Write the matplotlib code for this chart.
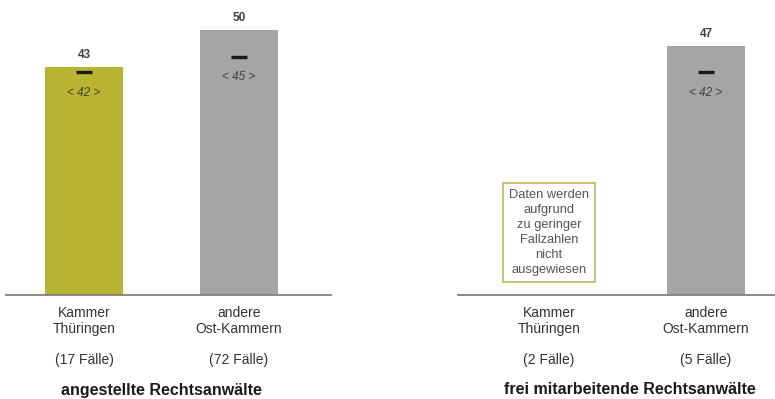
import matplotlib
matplotlib.use("Agg")
import matplotlib.pyplot as plt
import numpy as np

plt.rcParams['font.family'] = ['Liberation Sans', 'DejaVu Sans']

# Data
categories = ["Kammer\nThüringen", "andere\nOst-Kammern"]
bar_colors = ["#B9B533", "#A5A5A5"]

left_title = "angestellte Rechtsanwälte"
left_values = [43, 50]
left_means = [42, 45]
left_cases = [17, 72]

right_title = "frei mitarbeitende Rechtsanwälte"
right_values = [None, 47]
right_means = [None, 42]
right_cases = [2, 5]

note_text = "Daten werden\naufgrund\nzu geringer\nFallzahlen\nnicht\nausgewiesen"

W, H = 775, 399
fig = plt.figure(figsize=(W / 100, H / 100), dpi=100)

TEXT = "#404040"
AXIS = "#808080"


def px_axes(x0, x1, y_base, y_top):
    return fig.add_axes([x0 / W, (H - y_base) / H, (x1 - x0) / W, (y_base - y_top) / H])


def draw_panel(ax, values, means, cases, title, xlim, title_x):
    ax.set_xlim(*xlim)
    ax.set_ylim(0, 55)
    x = np.arange(len(categories))
    for i, (v, m) in enumerate(zip(values, means)):
        if v is None:
            continue
        ax.bar(x[i], v, width=0.5, color=bar_colors[i], edgecolor="none", zorder=2)
        ax.annotate(f"{v}", (x[i], v), xytext=(0, 8.6), textcoords="offset points",
                    ha="center", va="center", fontsize=8.5, fontweight="bold", color=TEXT)
        ax.plot([x[i]], [m], marker="_", markersize=11, markeredgewidth=2.4,
                color="#1a1a1a", zorder=3)
        ax.annotate(f"< {m} >", (x[i], m), xytext=(0, -14.5), textcoords="offset points",
                    ha="center", va="center", fontsize=8.5, fontstyle="italic", color=TEXT)
    ax.set_xticks(x)
    ax.set_xticklabels([f"{c}\n\n({n} Fälle)" for c, n in zip(categories, cases)],
                       fontsize=10, color="#333333", linespacing=1.15)
    ax.tick_params(axis="x", length=0, pad=8)
    ax.set_yticks([])
    for s in ["top", "right", "left"]:
        ax.spines[s].set_visible(False)
    ax.spines["bottom"].set_color(AXIS)
    ax.spines["bottom"].set_linewidth(1.3)
    ax.set_facecolor("none")
    fig.text(title_x / W, (H - 390) / H, title, ha="center", va="center",
             fontsize=11.5, fontweight="bold", color="#1a1a1a")


axL = px_axes(6, 331, 295, 3.5)
draw_panel(axL, left_values, left_means, left_cases, left_title,
           (-0.503, 1.594), 161.5)

axR = px_axes(458, 775, 295, 3.5)
draw_panel(axR, right_values, right_means, right_cases, right_title,
           (-0.58, 1.44), 630)

# Note shown where the bar is withheld
axR.text(0, 11.8, note_text, ha="center", va="center", fontsize=9.3,
         color="#555555", linespacing=1.32,
         bbox=dict(boxstyle="square,pad=0.5", facecolor="white",
                   edgecolor="#C3C060", linewidth=1.3))

fig.savefig("out.png", dpi=100)
